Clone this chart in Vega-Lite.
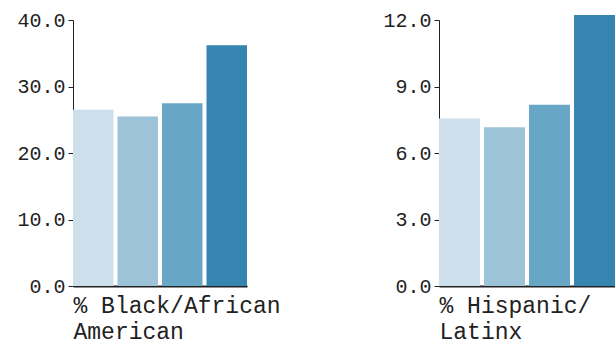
{
  "$schema": "https://vega.github.io/schema/vega-lite/v6.json",
  "padding": {"left": 16, "top": 10, "right": 0, "bottom": 6},
  "background": "white",
  "config": {
    "view": {"stroke": null},
    "font": "Liberation Mono",
    "axis": {"labelFont": "Liberation Mono", "titleFont": "Liberation Mono", "labelColor": "#222", "titleColor": "#222", "domainColor": "#222", "tickColor": "#222", "grid": false}
  },
  "datasets": {
    "d": [
      {"panel": "black", "cat": "1", "value": 26.5},
      {"panel": "black", "cat": "2", "value": 25.5},
      {"panel": "black", "cat": "3", "value": 27.5},
      {"panel": "black", "cat": "4", "value": 36.2},
      {"panel": "hisp", "cat": "1", "value": 7.56},
      {"panel": "hisp", "cat": "2", "value": 7.16},
      {"panel": "hisp", "cat": "3", "value": 8.18},
      {"panel": "hisp", "cat": "4", "value": 12.22}
    ]
  },
  "spacing": 101,
  "hconcat": [
    {
      "data": {"name": "d"},
      "transform": [{"filter": "datum.panel === 'black'"}],
      "width": 174,
      "height": 266,
      "mark": {"type": "bar"},
      "encoding": {
        "x": {"field": "cat", "type": "nominal", "scale": {"paddingInner": 0.09, "paddingOuter": 0},
          "axis": {"labels": false, "ticks": false, "domainWidth": 2, "title": ["% Black/African", "American"], "titleFontSize": 23, "titleFontWeight": "normal", "titleAnchor": "start", "titleAlign": "left", "titlePadding": 8, "titleLineHeight": 26}},
        "y": {"field": "value", "type": "quantitative", "scale": {"domain": [0, 40]},
          "axis": {"values": [0, 10, 20, 30, 40], "format": ".1f", "labelFontSize": 20, "title": null, "tickSize": 5, "labelPadding": 3}},
        "color": {"field": "cat", "type": "nominal", "legend": null,
          "scale": {"domain": ["1", "2", "3", "4"], "range": ["#cddfeb", "#9dc3d8", "#68a6c6", "#3585b0"]}}
      }
    },
    {
      "data": {"name": "d"},
      "transform": [{"filter": "datum.panel === 'hisp'"}],
      "width": 176,
      "height": 266,
      "mark": {"type": "bar"},
      "encoding": {
        "x": {"field": "cat", "type": "nominal", "scale": {"paddingInner": 0.09, "paddingOuter": 0},
          "axis": {"labels": false, "ticks": false, "domainWidth": 2, "title": ["% Hispanic/", "Latinx"], "titleFontSize": 23, "titleFontWeight": "normal", "titleAnchor": "start", "titleAlign": "left", "titlePadding": 8, "titleLineHeight": 26}},
        "y": {"field": "value", "type": "quantitative", "scale": {"domain": [0, 12]},
          "axis": {"values": [0, 3, 6, 9, 12], "format": ".1f", "labelFontSize": 20, "title": null, "tickSize": 5, "labelPadding": 3}},
        "color": {"field": "cat", "type": "nominal", "legend": null,
          "scale": {"domain": ["1", "2", "3", "4"], "range": ["#cddfeb", "#9dc3d8", "#68a6c6", "#3585b0"]}}
      }
    }
  ]
}
